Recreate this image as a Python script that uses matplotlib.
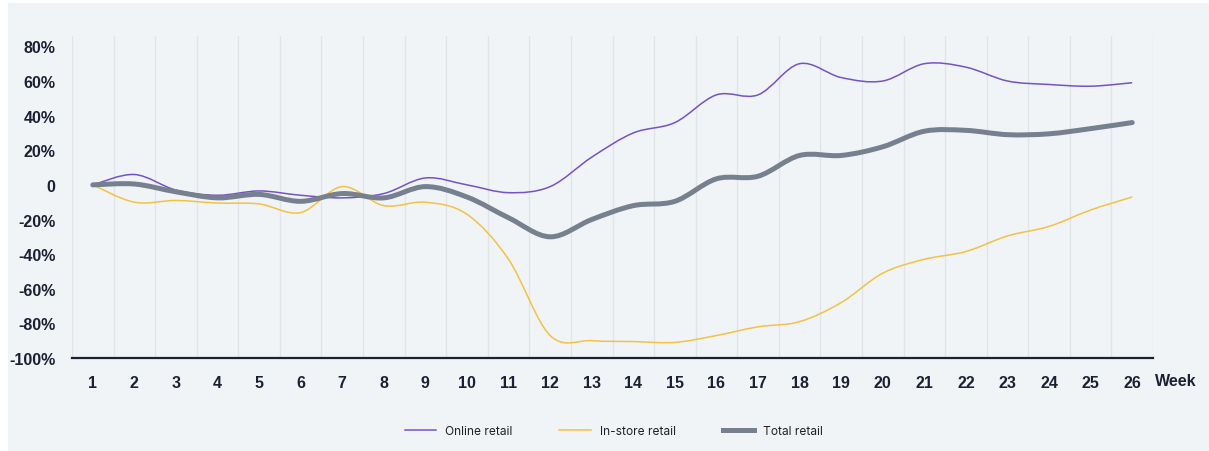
import numpy as np
import matplotlib.pyplot as plt
from matplotlib.path import Path
from matplotlib.patches import PathPatch, Rectangle
from matplotlib.lines import Line2D

plt.rcParams['font.family'] = ['Inter', 'DejaVu Sans']

# données (%)
weeks = list(range(1, 27))
online = [0, 6, -3, -6, -3.5, -6, -7.5, -5, 4, 0, -4.5, -1, 16, 30, 36, 52, 52, 70,
          62, 60, 70, 68, 60, 58, 57, 59]
instore = [0, -10, -9, -10.5, -11, -16, -1, -12, -10, -17, -43, -87, -90, -90.5, -91,
           -87, -82, -79, -68, -51, -43, -38.5, -29.5, -24, -14.5, -7]
total = [0, 0.5, -4, -7.5, -5.5, -9.5, -5, -7.5, -1, -7, -19, -30, -20, -12, -9.5,
         3.5, 5, 17, 17, 22, 31, 31.5, 29, 29.5, 32.5, 36]
yticks = [-100, -80, -60, -40, -20, 0, 20, 40, 60, 80]
ytick_labels = ['-100%', '-80%', '-60%', '-40%', '-20%', '0', '20%', '40%', '60%', '80%']

c_online = '#7652c9'
c_instore = '#f4c143'
c_total = '#77808e'
bg = '#f0f4f7'
txt = '#1c2033'
tick_font = ['Liberation Sans', 'DejaVu Sans']


def smooth_path(x, y):
    # courbe de Bezier type Catmull-Rom passant par les points
    x = np.asarray(x, float)
    y = np.asarray(y, float)
    verts = [(x[0], y[0])]
    codes = [Path.MOVETO]
    n = len(x)
    for i in range(n - 1):
        x0, y0 = (x[i - 1], y[i - 1]) if i > 0 else (x[i], y[i])
        x3, y3 = (x[i + 2], y[i + 2]) if i + 2 < n else (x[i + 1], y[i + 1])
        c1 = (x[i] + (x[i + 1] - x0) / 6, y[i] + (y[i + 1] - y0) / 6)
        c2 = (x[i + 1] - (x3 - x[i]) / 6, y[i + 1] - (y3 - y[i]) / 6)
        verts += [c1, c2, (x[i + 1], y[i + 1])]
        codes += [Path.CURVE4] * 3
    return Path(verts, codes)


fig = plt.figure(figsize=(12.09, 4.52), dpi=100)
fig.patch.set_facecolor('white')
fig.patches.append(Rectangle((8 / 1209, 0), 1 - 8 / 1209, 1 - 4 / 452,
                             transform=fig.transFigure, facecolor=bg,
                             edgecolor='none', zorder=-10))

ax = fig.add_axes([72 / 1209, 1 - 359 / 452, (1153 - 72) / 1209, (359 - 37) / 452])
ax.set_facecolor(bg)
ax.patch.set_alpha(0)

for xg in np.arange(0.5, 27, 1.0):
    ax.axvline(xg, color='#e1e5e9', lw=1.0, zorder=0)

ax.add_patch(PathPatch(smooth_path(weeks, online), facecolor='none',
                       edgecolor=c_online, lw=1.1, zorder=3))
ax.add_patch(PathPatch(smooth_path(weeks, instore), facecolor='none',
                       edgecolor=c_instore, lw=1.1, zorder=2))
ax.add_patch(PathPatch(smooth_path(weeks, total), facecolor='none',
                       edgecolor=c_total, lw=3.6, zorder=4, capstyle='round'))

ax.set_xlim(0.5, 26.5)
ax.set_ylim(-100, 86)
ax.set_xticks(weeks)
ax.set_xticklabels([str(w) for w in weeks], fontsize=11.5, fontweight='bold',
                   color=txt, family=tick_font)
ax.set_yticks(yticks)
ax.set_yticklabels(ytick_labels, fontsize=11.5, fontweight='bold', color=txt,
                   family=tick_font)
ax.tick_params(axis='both', length=0)
ax.tick_params(axis='x', pad=12)
ax.tick_params(axis='y', pad=12)
for s in ['top', 'right', 'left']:
    ax.spines[s].set_visible(False)
ax.spines['bottom'].set_color(txt)
ax.spines['bottom'].set_linewidth(1.6)

fig.text(1176 / 1209, 1 - 381 / 452, 'Week', fontsize=11.5, fontweight='bold',
         color=txt, ha='center', va='center', family=tick_font)

handles = [Line2D([], [], color=c_online, lw=1.1),
           Line2D([], [], color=c_instore, lw=1.1),
           Line2D([], [], color=c_total, lw=3.6)]
fig.legend(handles, ['Online retail', 'In-store retail', 'Total retail'],
           loc='center', bbox_to_anchor=(614 / 1209, 1 - 432 / 452), ncol=3,
           frameon=False, fontsize=8.6, handlelength=2.6, columnspacing=3.9,
           labelcolor='#222222')

plt.savefig('out.png', dpi=100, facecolor=fig.get_facecolor())
